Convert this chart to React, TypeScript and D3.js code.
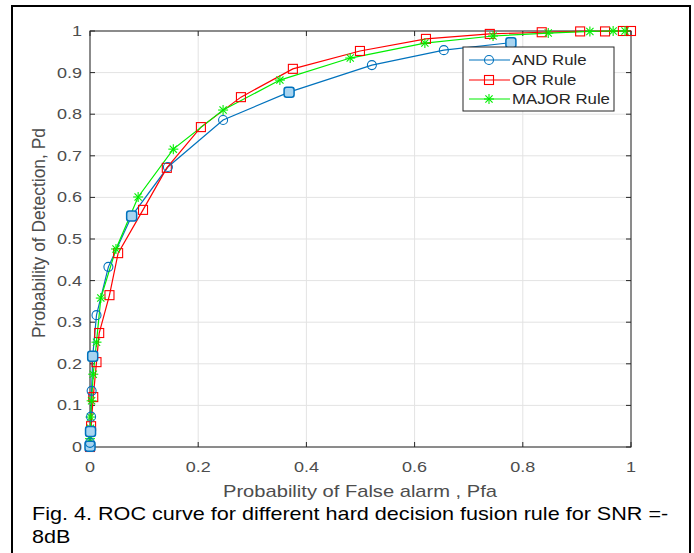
import React from "react";
import * as d3 from "d3";

const andX = [0, 0, 0.001, 0.002, 0.003, 0.005, 0.012, 0.034, 0.077, 0.144, 0.246, 0.368, 0.521, 0.654, 0.778];
const andY = [0.002, 0.01, 0.037, 0.073, 0.135, 0.218, 0.317, 0.433, 0.555, 0.673, 0.786, 0.853, 0.918, 0.954, 0.972];
const andFilled = [0, 2, 5, 8, 11, 14];

const orX = [0, 0.002, 0.006, 0.012, 0.017, 0.036, 0.052, 0.098, 0.142, 0.205, 0.279, 0.375, 0.499, 0.621, 0.739, 0.835, 0.906, 0.952, 0.985, 1.0];
const orY = [0, 0.05, 0.12, 0.204, 0.274, 0.365, 0.466, 0.57, 0.671, 0.769, 0.841, 0.909, 0.952, 0.981, 0.993, 0.997, 0.999, 0.999, 1.0, 1.0];

const majX = [0, 0, 0.001, 0.001, 0.003, 0.006, 0.012, 0.02, 0.048, 0.089, 0.154, 0.246, 0.351, 0.481, 0.619, 0.745, 0.847, 0.924, 0.967, 0.989];
const majY = [0, 0.02, 0.045, 0.072, 0.111, 0.175, 0.252, 0.358, 0.476, 0.601, 0.716, 0.81, 0.882, 0.935, 0.971, 0.988, 0.995, 0.999, 1.0, 1.0];

const xTicks = [0, 0.2, 0.4, 0.6, 0.8, 1];
const yTicks = [0, 0.1, 0.2, 0.3, 0.4, 0.5, 0.6, 0.7, 0.8, 0.9, 1];
const legendNames = ["AND Rule", "OR Rule", "MAJOR Rule"];

const BLUE = "#0072BD";
const RED = "#ff0000";
const GREEN = "#00ee00";
const AX = "#262626";
const FONT = "'Liberation Sans', Arial, sans-serif";
const SX = 1.2;

const L = 90, R = 631, T = 31, B = 447;

function Circle({ x, y, filled }: { x: number; y: number; filled?: boolean }) {
  if (filled)
    return <rect x={x - 5} y={y - 5} width={10} height={10} rx={2.5} fill="#a8d4f0" stroke={BLUE} strokeWidth={1.5} />;
  return <circle cx={x} cy={y} r={4.5} fill="none" stroke={BLUE} strokeWidth={1.1} />;
}
function Square({ x, y }: { x: number; y: number }) {
  return <rect x={x - 4.5} y={y - 4.5} width={9} height={9} fill="none" stroke={RED} strokeWidth={1.1} />;
}
function Star({ x, y }: { x: number; y: number }) {
  const s = 5;
  const d = s * 0.72;
  return (
    <g stroke={GREEN} strokeWidth={1.1}>
      <line x1={x - s} y1={y} x2={x + s} y2={y} />
      <line x1={x} y1={y - s} x2={x} y2={y + s} />
      <line x1={x - d} y1={y - d} x2={x + d} y2={y + d} />
      <line x1={x - d} y1={y + d} x2={x + d} y2={y - d} />
    </g>
  );
}

function SText({ x, y, anchor, size, fill, children }: { x: number; y: number; anchor?: string; size: number; fill: string; children: React.ReactNode }) {
  return (
    <g transform={`translate(${x},${y}) scale(${SX},1)`}>
      <text x={0} y={0} textAnchor={anchor || "start"} fontSize={size} fill={fill}>{children}</text>
    </g>
  );
}

export default function App() {
  const xs = d3.scaleLinear().domain([0, 1]).range([L, R]);
  const ys = d3.scaleLinear().domain([0, 1]).range([B, T]);
  const line = d3.line<[number, number]>().x((d) => xs(d[0])).y((d) => ys(d[1]));
  const andPts = andX.map((v, i) => [v, andY[i]] as [number, number]);
  const orPts = orX.map((v, i) => [v, orY[i]] as [number, number]);
  const majPts = majX.map((v, i) => [v, majY[i]] as [number, number]);

  const lx = 463, ly = 47, lw = 151, lh = 64;
  const ent = [60, 80, 99];

  return (
    <svg width={694} height={553} style={{ position: "absolute", left: 0, top: 0, background: "#fff" }} fontFamily={FONT}>
      <rect x={0} y={0} width={694} height={553} fill="#fff" />
      <rect x={12} y={6} width={678} height={560} fill="none" stroke="#000" strokeWidth={2} />
      {xTicks.map((t) => (
        <line key={"gx" + t} x1={xs(t)} x2={xs(t)} y1={T} y2={B} stroke="#e3e3e3" strokeWidth={1} />
      ))}
      {yTicks.map((t) => (
        <line key={"gy" + t} x1={L} x2={R} y1={ys(t)} y2={ys(t)} stroke="#e3e3e3" strokeWidth={1} />
      ))}
      <rect x={L} y={T} width={R - L} height={B - T} fill="none" stroke={AX} strokeWidth={1} />
      {xTicks.map((t) => (
        <g key={"tx" + t}>
          <line x1={xs(t)} x2={xs(t)} y1={B} y2={B - 5} stroke={AX} />
          <line x1={xs(t)} x2={xs(t)} y1={T} y2={T + 5} stroke={AX} />
          <SText x={xs(t)} y={472} anchor="middle" size={15} fill="#4d4d4d">{d3.format("~g")(t)}</SText>
        </g>
      ))}
      {yTicks.map((t) => (
        <g key={"ty" + t}>
          <line x1={L} x2={L + 5} y1={ys(t)} y2={ys(t)} stroke={AX} />
          <line x1={R} x2={R - 5} y1={ys(t)} y2={ys(t)} stroke={AX} />
          <SText x={82} y={ys(t) + 5} anchor="end" size={15} fill="#4d4d4d">{d3.format("~g")(t)}</SText>
        </g>
      ))}
      <text x={223} y={497} fontSize={17} fill="#4d4d4d" textLength={274} lengthAdjust="spacingAndGlyphs">Probability of False alarm , Pfa</text>
      <text transform={`translate(45,233) scale(1.2,1) rotate(-90)`} textAnchor="middle" fontSize={15} fill="#4d4d4d" textLength={210} lengthAdjust="spacingAndGlyphs">Probability of Detection, Pd</text>

      <path d={line(andPts) || ""} fill="none" stroke={BLUE} strokeWidth={1.2} />
      <path d={line(orPts) || ""} fill="none" stroke={RED} strokeWidth={1.2} />
      <path d={line(majPts) || ""} fill="none" stroke={GREEN} strokeWidth={1.2} />
      {orPts.map((p, i) => <Square key={"o" + i} x={xs(p[0])} y={ys(p[1])} />)}
      {majPts.map((p, i) => <Star key={"m" + i} x={xs(p[0])} y={ys(p[1])} />)}
      {andPts.map((p, i) => <Circle key={"a" + i} x={xs(p[0])} y={ys(p[1])} filled={andFilled.includes(i)} />)}

      <rect x={lx} y={ly} width={lw} height={lh} fill="#fff" stroke={AX} strokeWidth={1} />
      {legendNames.map((n, i) => {
        const c = [BLUE, RED, GREEN][i];
        return (
          <g key={n}>
            <line x1={469} x2={510} y1={ent[i]} y2={ent[i]} stroke={c} strokeWidth={1.2} />
            {i === 0 && <Circle x={489} y={ent[i]} />}
            {i === 1 && <Square x={489} y={ent[i]} />}
            {i === 2 && <Star x={489} y={ent[i]} />}
            <SText x={512} y={ent[i] + 5} size={14} fill="#262626">{n}</SText>
          </g>
        );
      })}

      <SText x={32} y={520} size={18} fill="#000">Fig. 4. ROC curve for different hard decision fusion rule for SNR =-</SText>
      <SText x={32} y={543} size={18} fill="#000">8dB</SText>
    </svg>
  );
}
